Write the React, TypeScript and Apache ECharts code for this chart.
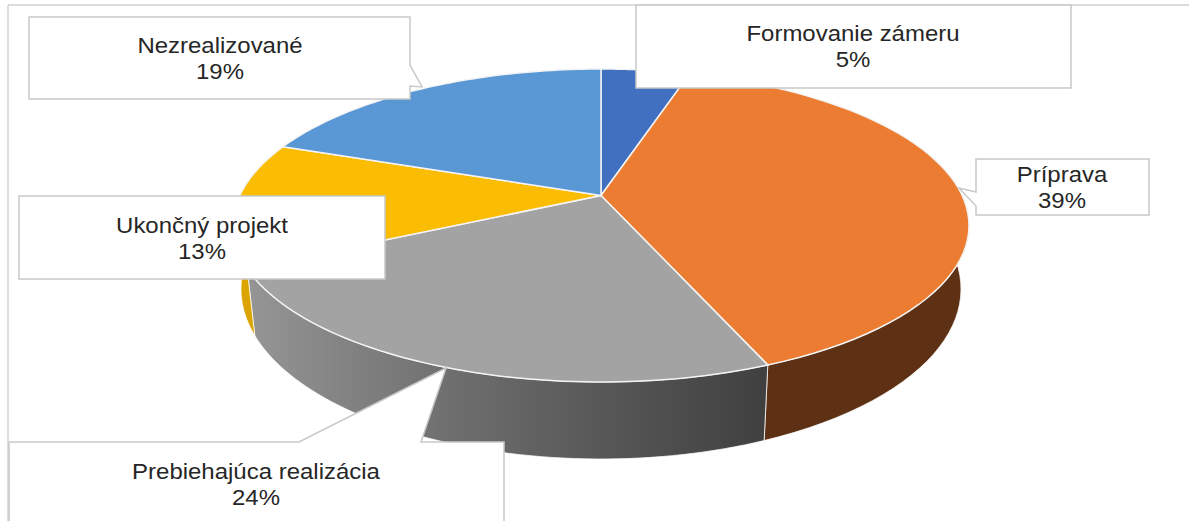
import React, { useEffect, useRef } from "react";
import * as echarts from "echarts";

const categories = ["Formovanie zámeru", "Príprava", "Prebiehajúca realizácia", "Ukončný projekt", "Nezrealizované"];
const shares = [4.7, 39.1, 23.9, 12.9, 19.4];
const topColors = ["#4270c1", "#eb7c31", "#a3a3a3", "#fbbc04", "#5a98d5"];
const wallColors = ["#29446f", "#5e3114", "#6e6e6e", "#dba400", "#376086"];

// projected pie geometry
const TOP = { cx: 601, cy: 225.5, rx: 368, ry: 156.5 };
const BOTTOM = { cx: 601, cy: 289, rx: 360, ry: 170 };
const APEX_SHIFT = 0.192;
const STEPS = 60;
const total = shares.reduce((a, b) => a + b, 0);

function rim(fraction: number, e: typeof TOP): number[] {
  const t = fraction * Math.PI * 2;
  const X = Math.sin(t);
  const Y = Math.cos(t);
  const d = 1 + APEX_SHIFT * Y;
  const px = (X * Math.sqrt(1 - APEX_SHIFT * APEX_SHIFT)) / d;
  const py = (Y + APEX_SHIFT) / d;
  return [e.cx + px * e.rx, e.cy - py * e.ry];
}
function centre(e: typeof TOP): number[] {
  return [e.cx, e.cy - APEX_SHIFT * e.ry];
}
function arc(from: number, to: number, e: typeof TOP): number[][] {
  const pts: number[][] = [];
  for (let i = 0; i <= STEPS; i++) pts.push(rim(from + ((to - from) * i) / STEPS, e));
  return pts;
}
function span(index: number): [number, number] {
  let before = 0;
  for (let i = 0; i < index; i++) before += shares[i];
  return [before / total, (before + shares[index]) / total];
}

const sideGradient = new echarts.graphic.LinearGradient(
  245, 0, 765, 0,
  [
    { offset: 0, color: "#969696" },
    { offset: 0.38, color: "#707070" },
    { offset: 0.68, color: "#585858" },
    { offset: 1, color: "#404040" },
  ],
  true
);

const FONT = '22px "Liberation Sans", Arial, sans-serif';
const LINE = "#c8c8c8";

type Callout = { points: number[][]; tx: number; ty: number };
const callouts: Callout[] = [
  { points: [[636, 5], [1071, 5], [1071, 88], [636, 88]], tx: 853, ty: 46 },
  { points: [[976, 159], [1149, 159], [1149, 215], [976, 215], [976, 206], [959, 188], [976, 192]], tx: 1062, ty: 187 },
  { points: [[9, 442], [299, 442], [446, 368], [421, 442], [504, 442], [504, 530], [9, 530]], tx: 256, ty: 484 },
  { points: [[19, 196], [385, 196], [385, 279], [19, 279]], tx: 202, ty: 238 },
  { points: [[29, 17], [410, 17], [410, 65], [422, 87], [410, 86], [410, 99], [29, 99]], tx: 220, ty: 58 },
];

export default function App() {
  const ref = useRef<HTMLDivElement>(null);
  useEffect(() => {
    document.body.style.margin = "0";
    document.body.style.background = "#fff";
    const chart = echarts.init(ref.current!, null, { renderer: "svg" });
    const graphic: any[] = [
      { type: "line", z: 20, shape: { x1: 8, y1: 5, x2: 1189, y2: 5 }, style: { stroke: "#dcdcdc", lineWidth: 2 } },
      { type: "line", z: 20, shape: { x1: 8, y1: 5, x2: 8, y2: 521 }, style: { stroke: "#d4d4d4", lineWidth: 1.5 } },
    ];
    callouts.forEach((c, i) => {
      graphic.push({
        type: "polygon",
        z: 21,
        shape: { points: c.points },
        style: { fill: "#ffffff", stroke: LINE, lineWidth: 1.5 },
      });
      graphic.push({
        type: "text",
        z: 22,
        x: c.tx,
        y: c.ty,
        scaleX: 1.09,
        style: {
          text: `${categories[i]}\n${Math.round(shares[i])}%`,
          font: FONT,
          lineHeight: 26,
          fill: "#262626",
          textAlign: "center",
          textVerticalAlign: "middle",
        },
      });
    });
    const data = shares.map((v, i) => ({ value: [v, i] }));
    chart.setOption({
      animation: false,
      backgroundColor: "#ffffff",
      graphic,
      series: [
        {
          type: "custom",
          coordinateSystem: "none",
          z: 2,
          silent: true,
          data,
          renderItem: (_p: any, api: any) => {
            const i = api.value(1);
            const [a, b] = span(i);
            const points = arc(a, b, TOP).concat(arc(a, b, BOTTOM).reverse());
            return {
              type: "polygon",
              shape: { points },
              style: {
                fill: i === 2 ? sideGradient : wallColors[i],
                stroke: "rgba(255,255,255,0.75)",
                lineWidth: 1,
              },
            };
          },
        },
        {
          type: "custom",
          coordinateSystem: "none",
          z: 3,
          silent: true,
          data,
          renderItem: (_p: any, api: any) => {
            const i = api.value(1);
            const [a, b] = span(i);
            const points = [centre(TOP)].concat(arc(a, b, TOP));
            return {
              type: "polygon",
              shape: { points },
              style: { fill: topColors[i], stroke: "#f4f4f4", lineWidth: 1.5 },
            };
          },
        },
      ],
    });
    return () => chart.dispose();
  }, []);
  return <div ref={ref} style={{ width: 1189, height: 521, position: "absolute", left: 0, top: 0 }} />;
}
